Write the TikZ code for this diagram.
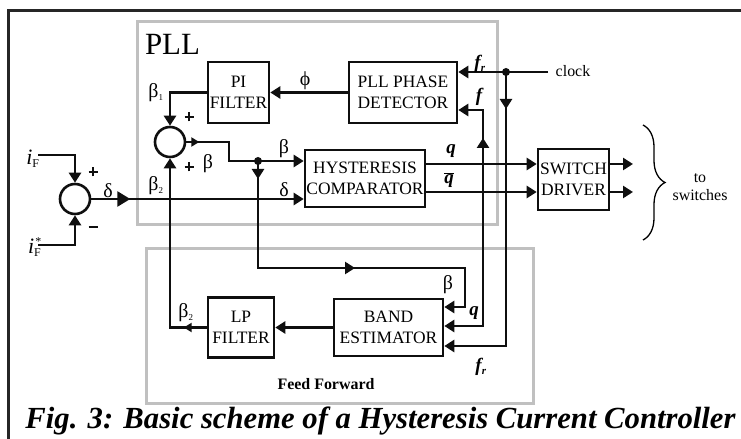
\documentclass[tikz,border=0pt]{standalone}
\usepackage{fontspec}
\setmainfont{Liberation Serif}
\usetikzlibrary{arrows.meta,decorations.markings,decorations.pathreplacing}
\definecolor{framegray}{RGB}{192,192,192}
\definecolor{ink}{RGB}{15,15,15}
\newcommand{\plussign}{\rule[3.25bp]{9bp}{2.6bp}\kern-5.8bp\rule{2.6bp}{9bp}\kern3.2bp}
\begin{document}
\begin{tikzpicture}[x=1bp,y=-1bp,
  >={Triangle[length=10bp,width=12bp]},
  conn/.style={line width=2.6bp, draw=ink},
  block/.style={draw=ink, line width=2.6bp, align=center, inner sep=0pt,
    font=\fontsize{17.5}{21}\selectfont},
  sumnode/.style={circle, draw=ink, line width=2.6bp, minimum size=30bp, inner sep=0pt},
  midarrow/.style={postaction={decorate,decoration={markings,mark=at position #1 with {\arrow{>}}}}},
  bigmid/.style={postaction={decorate,decoration={markings,mark=at position #1 with {\arrow{Triangle[length=13bp,width=15bp]}}}}},
  smallmid/.style={postaction={decorate,decoration={markings,mark=at position #1 with {\arrow{Triangle[length=8bp,width=9bp]}}}}},
  lbl/.style={inner sep=0pt, font=\fontsize{20}{20}\selectfont},
  sgn/.style={inner sep=0pt, text=ink},
  bilbl/.style={inner sep=0pt, font=\fontsize{19}{19}\selectfont\bfseries\itshape},
  dot/.style={circle, fill=ink, inner sep=0pt, minimum size=8bp}
]
\useasboundingbox (0,0) rectangle (741,439);
\fill[white] (0,0) rectangle (741,439);

% outer frame (top and left edges)
\draw[line width=3bp, draw=black!85] (741,11) -- (8,11) -- (8,439);

% grey groups
\draw[framegray, line width=3bp] (137,22) rectangle (497,225);
\draw[framegray, line width=3bp] (146,249) rectangle (533,403);
\node[inner sep=0pt, font=\fontsize{31}{31}\selectfont] (pll) at (172.5,44) {PLL};
\node[inner sep=0pt, font=\fontsize{16}{16}\selectfont\bfseries] (ff) at (326,384) {Feed Forward};

% blocks
\node[block, minimum width=61bp, minimum height=61bp] (PI) at (238.5,92.5) {PI\\FILTER};
\node[block, minimum width=108bp, minimum height=61bp] (PD) at (403,92.5) {PLL PHASE\\DETECTOR};
\node[block, minimum width=120bp, minimum height=57bp] (HC) at (365,178.5) {HYSTERESIS\\COMPARATOR};
\node[block, minimum width=71bp, minimum height=61bp] (SD) at (573.5,179.5) {SWITCH\\DRIVER};
\node[block, minimum width=66bp, minimum height=60bp] (LP) at (241,327.5) {LP\\FILTER};
\node[block, minimum width=109bp, minimum height=57bp] (BE) at (388.5,327.5) {BAND\\ESTIMATOR};

\node[sumnode] (s1) at (75,199) {};
\node[sumnode] (s2) at (170,142) {};

% helper coordinates
\coordinate (iFin) at (38,155);
\coordinate (iFsin) at (38,245);
\coordinate (b1) at (229,161);
\coordinate (J) at (258,161);
\coordinate (ffc) at (465,268);
\coordinate (clk) at (548,72);
\coordinate (K) at (506,72);
\coordinate (Q) at (483,164);
\coordinate (y110) at (0,110);
\coordinate (y164) at (0,164);
\coordinate (y192) at (0,192);
\coordinate (y307) at (0,307);
\coordinate (y326) at (0,326);
\coordinate (y346) at (0,346);
\coordinate (o1) at (633,164);
\coordinate (o2) at (633,192);

% connectors
\draw[conn,->] (iFin) -| (s1.north);
\draw[conn,->] (iFsin) -| (s1.south);
\draw[conn,->,bigmid=39bp] (s1.east) -- (s1.east -| HC.west);
\draw[conn,->] (PD.west) -- (PI.east);
\draw[conn,->] (PI.west) -| (s2.north);
\draw[conn,->,smallmid=13bp] (s2.east) -| (b1) -- (b1 -| HC.west);
\draw[conn,->,midarrow=18bp,midarrow=204bp] (J) |- (ffc) |- (BE.east |- y307);
\draw[conn,->] (clk) -- (clk -| PD.east);
\draw[conn,->,midarrow=37bp] (K) |- (BE.east |- y346);
\draw[conn,->,midarrow=26bp] (Q) |- (PD.east |- y110);
\draw[conn,->] (Q) |- (BE.east |- y326);
\draw[conn,->] (HC.east |- y164) -- (SD.west |- y164);
\draw[conn,->] (HC.east |- y192) -- (SD.west |- y192);
\draw[conn,->] (SD.east |- y164) -- (o1);
\draw[conn,->] (SD.east |- y192) -- (o2);
\draw[conn,->] (BE.west) -- (LP.east);
\draw[conn,->,smallmid=23bp] (LP.west) -| (s2.south);
\node[dot] (Jd) at (J) {};
\node[dot] (Kd) at (K) {};

% brace
\draw[line width=1.3bp, decorate, decoration={brace, amplitude=22bp}] (643,125) -- (643,240);
\node[inner sep=0pt, align=center, font=\fontsize{16}{18.5}\selectfont] (sw) at (700,187) {to\\switches};

% labels
\node[inner sep=0pt, font=\fontsize{16}{16}\selectfont] (clklbl) at (573,71) {clock};
\node[lbl] (lb1) at (156,93) {β\textsubscript{\fontsize{9}{9}\selectfont 1}};
\node[lbl] (lb2) at (156,186) {β\textsubscript{\fontsize{9}{9}\selectfont 2}};
\node[lbl] (lb3) at (186,313) {β\textsubscript{\fontsize{9}{9}\selectfont 2}};
\node[lbl] (lbs) at (208,164) {β};
\node[lbl] (lbh) at (284,149) {β};
\node[lbl] (lbf) at (448,285) {β};
\node[lbl] (ld1) at (108,191) {δ};
\node[lbl] (ld2) at (284,190) {δ};
\node[lbl] (lphi) at (305,81) {ϕ};
\node[sgn] (p1) at (93,172) {\plussign};
\node[sgn] (m1) at (93,227) {\rule{9bp}{2.8bp}};
\node[sgn] (p2) at (189,117) {\plussign};
\node[sgn] (p3) at (189,167) {\plussign};
\node[inner sep=0pt, font=\fontsize{22}{22}\selectfont] (liF) at (33,159) {\textit{i}\textsubscript{\fontsize{12}{12}\selectfont F}};
\node[inner sep=0pt, font=\fontsize{22}{22}\selectfont] (liFs) at (35,247) {\textit{i}\textsubscript{\fontsize{12}{12}\selectfont F}\kern-6bp\textsuperscript{\fontsize{12}{12}\selectfont *}};
\node[bilbl] (lfr1) at (480,64) {f\textsubscript{\fontsize{11}{11}\selectfont r}};
\node[bilbl] (lf) at (479,97) {f};
\node[bilbl] (lq) at (451,151) {q};
\node[bilbl] (lqb) at (449,180) {$\overline{\hbox{\bfseries\itshape q}}$};
\node[bilbl] (lqf) at (474,313) {q};
\node[bilbl] (lfr2) at (481,367) {f\textsubscript{\fontsize{11}{11}\selectfont r}};

% caption
\node[inner sep=0pt, font=\fontsize{30.8}{31}\selectfont\bfseries\itshape] (cap) at (380.5,421) {Fig. 3: Basic scheme of a Hysteresis Current Controller};
\end{tikzpicture}
\end{document}
